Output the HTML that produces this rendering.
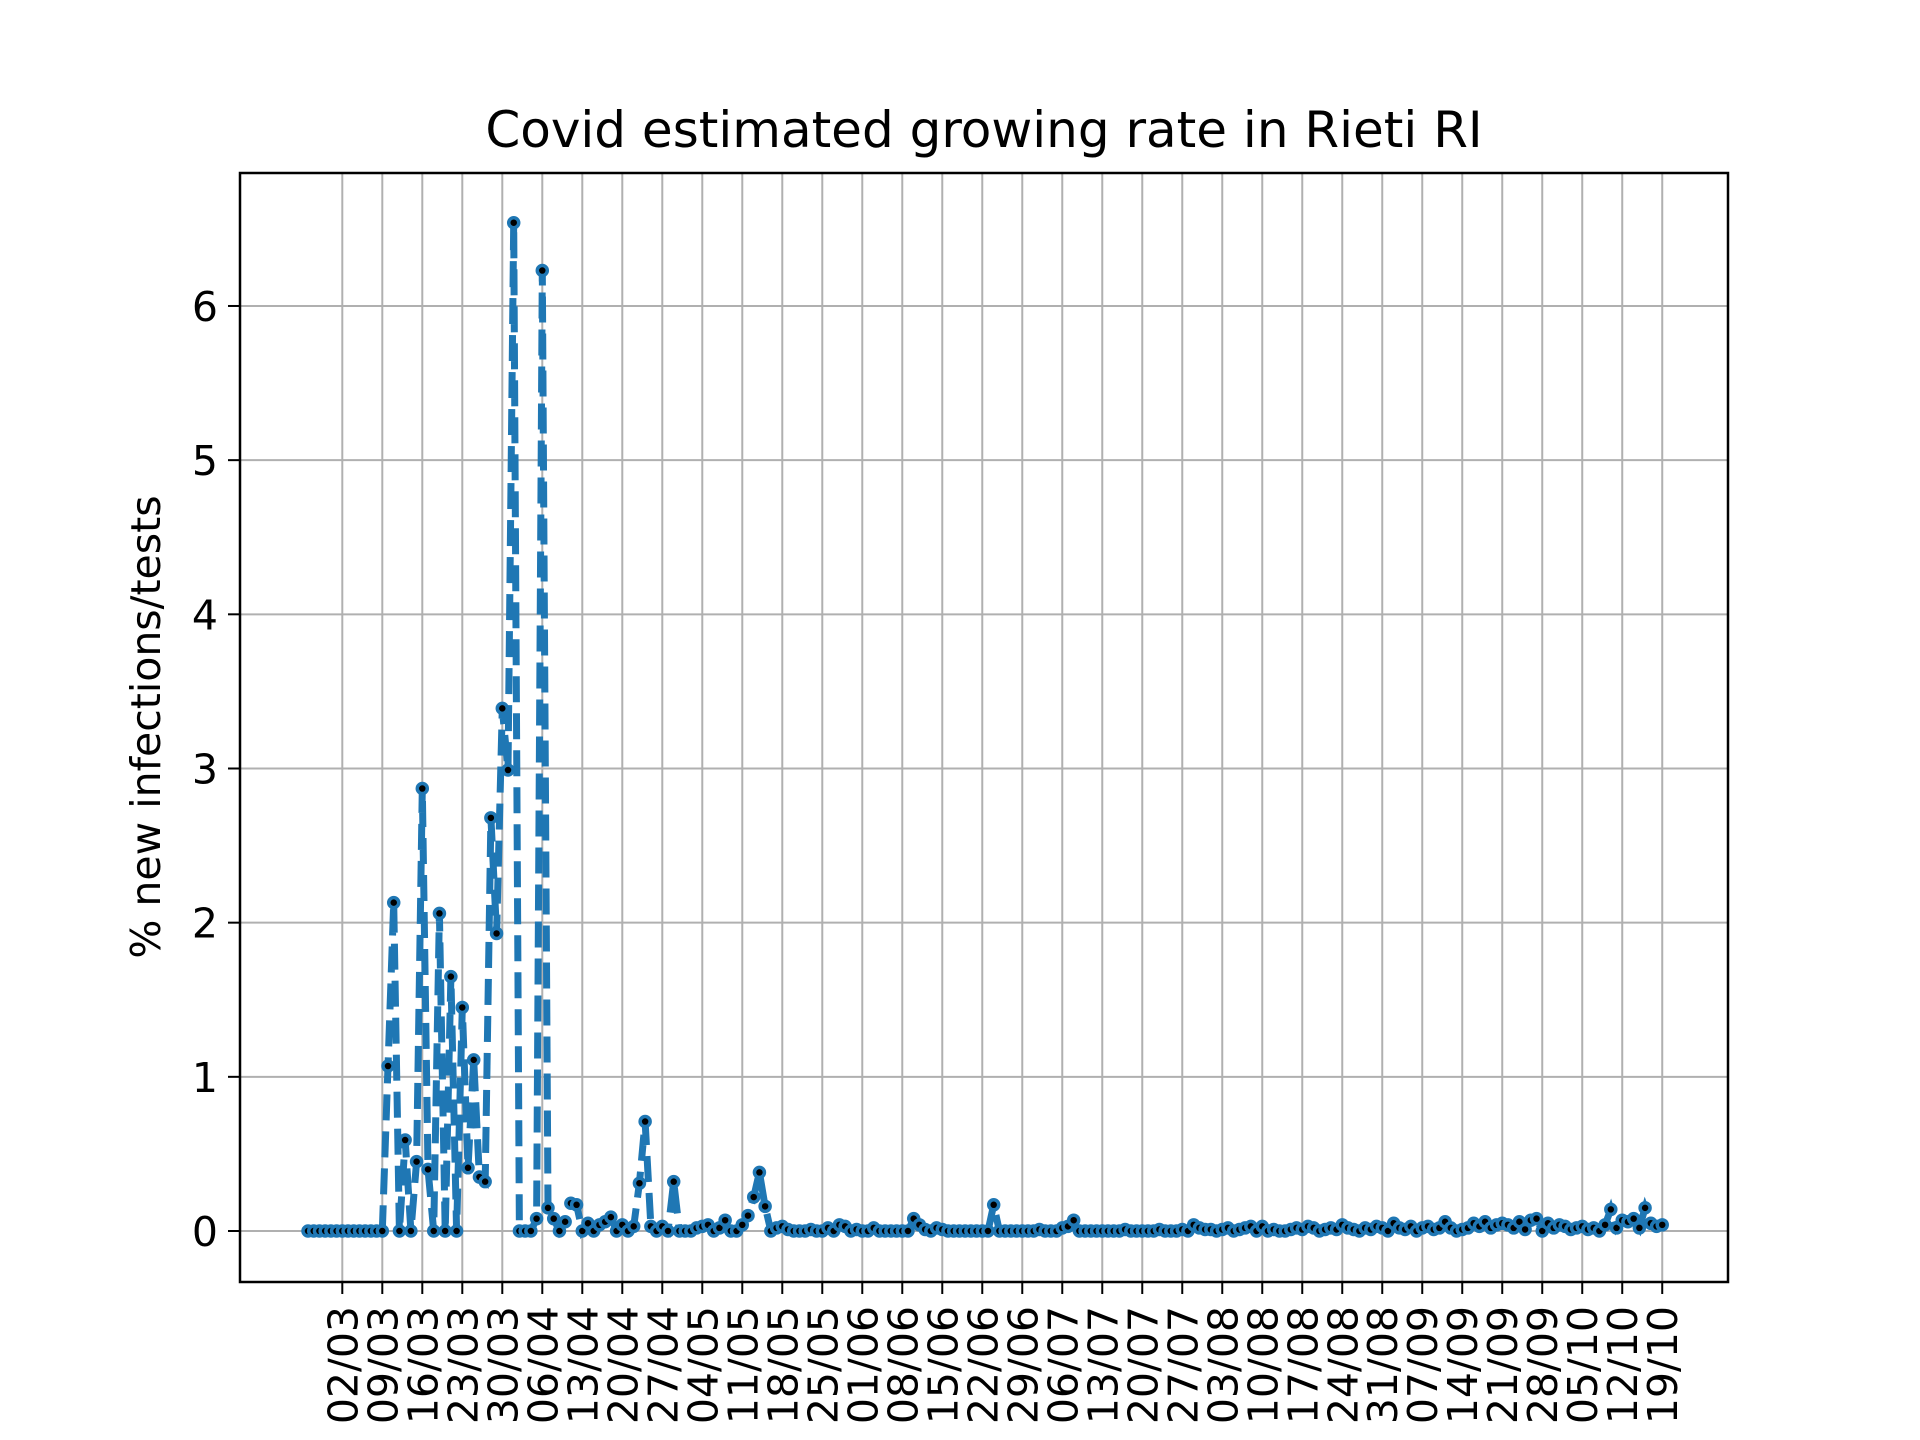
<!DOCTYPE html>
<html><head><meta charset="utf-8">
<style>
html,body{margin:0;padding:0;background:#fff;}
svg{display:block;font-family:"DejaVu Sans","Liberation Sans",sans-serif;}
</style></head>
<body>
<svg id="chart" width="1920" height="1440" viewBox="0 0 1920 1440" xmlns="http://www.w3.org/2000/svg">
<rect width="1920" height="1440" fill="#fff"/>
<text x="984" y="147" font-size="50" text-anchor="middle" fill="#000">Covid estimated growing rate in Rieti RI</text>
<text transform="translate(160,727) rotate(-90)" font-size="41" text-anchor="middle" fill="#000">% new infections/tests</text>
<g id="grid"></g>
<g id="series"></g>
<g id="axes"></g>
</svg>
<script>
// Data: daily values starting 25/02
const startLabel = "25/02";
const values = [
0,0,0,0,0,0,0,0,0,0,0,0,0,0,1.07,2.13,0,0.59,0,0.45,2.87,0.4,0,2.06,0,1.65,0,1.45,0.41,1.11,
0.35,0.32,2.68,1.93,3.39,2.99,6.54,0,0,0,0.08,6.23,0.15,0.08,0,0.06,0.18,0.17,0,0.05,
0,0.04,0.06,0.09,0,0.04,0,0.03,0.31,0.71,0.03,0,0.03,0,0.32,0,0,0,0.02,0.03,
0.04,0,0.02,0.07,0,0,0.04,0.1,0.22,0.38,0.16,0,0.02,0.03,
0.01,0,0,0,0.01,0,0,
0.02,0,0.04,0.03,0,0.01,0,
0,0.02,0,0,0,0,0,
0,0.08,0.04,0.01,0,0.02,0.01,
0,0,0,0,0,0,0,
0,0.17,0,0,0,0,0,
0,0,0.01,0,0,0,0.02,
0.03,0.07,0,0,0,0,0,
0,0,0,0.01,0,0,0,
0,0,0.01,0,0,0,0.01,
0,0.04,0.02,0.01,0.01,0,0.01,
0.02,0,0.01,0.02,0.03,0,0.03,
0,0.01,0,0,0.01,0.02,0.01,
0.03,0.02,0,0.01,0.02,0.01,0.04,
0.02,0.01,0,0.02,0.01,0.03,0.02,
0,0.05,0.02,0.01,0.03,0,0.02,
0.03,0.01,0.02,0.06,0.02,0,0.01,
0.02,0.05,0.03,0.06,0.02,0.04,0.05,
0.04,0.02,0.06,0.01,0.07,0.08,0,
0.05,0.02,0.04,0.03,0.01,0.02,0.03,
0.01,0.02,0,0.04,0.14,0.02,0.07,
0.06,0.08,0.02,0.15,0.05,0.03,0.04
];
const xTickLabels = ["02/03","09/03","16/03","23/03","30/03","06/04","13/04","20/04","27/04","04/05","11/05","18/05","25/05","01/06","08/06","15/06","22/06","29/06","06/07","13/07","20/07","27/07","03/08","10/08","17/08","24/08","31/08","07/09","14/09","21/09","28/09","05/10","12/10","19/10"];
const yTicks = [0,1,2,3,4,5,6];

const NS="http://www.w3.org/2000/svg";
const L=240,R=1728,T=173,B=1282;
const firstTickIndex=6, dayPx=5.714, tick0X=342.3;
function xs(i){return tick0X+(i-firstTickIndex)*dayPx;}
function ys(v){return 1231-v*154.17;}
function mk(tag,attrs,parent){const e=document.createElementNS(NS,tag);for(const k in attrs)e.setAttribute(k,attrs[k]);parent.appendChild(e);return e;}
const grid=document.getElementById('grid'),series=document.getElementById('series'),axes=document.getElementById('axes');

yTicks.forEach(v=>{
  const y=ys(v);
  const g=mk('line',{x1:L,x2:R,y1:y,y2:y,stroke:'#b0b0b0','stroke-width':2},grid);
  
  
  mk('line',{x1:L-12,x2:L,y1:y,y2:y,stroke:'#000','stroke-width':2},axes);
  const t=mk('text',{x:L-22,y:y+15,'font-size':41,'text-anchor':'end',fill:'#000'},axes);
  t.textContent=String(v);
  
  
});
xTickLabels.forEach((lab,k)=>{
  const x=xs(firstTickIndex+k*7);
  const g=mk('line',{x1:x,x2:x,y1:T,y2:B,stroke:'#b0b0b0','stroke-width':2},grid);
  
  
  mk('line',{x1:x,x2:x,y1:B,y2:B+12,stroke:'#000','stroke-width':2},axes);
  const t=mk('text',{transform:`translate(${x+15},${B+24}) rotate(-90)`,'font-size':41,'text-anchor':'end',fill:'#000'},axes);
  t.textContent=lab;
  
  
});
const frame=mk('rect',{x:L,y:T,width:R-L,height:B-T,fill:'none',stroke:'#000','stroke-width':2.5},axes);



const pts=values.map((v,i)=>xs(i).toFixed(1)+','+ys(v).toFixed(1)).join(' ');
const line=mk('polyline',{points:pts,fill:'none',stroke:'#1f77b4','stroke-width':7,'stroke-dasharray':'26 11'},series);


values.forEach((v,i)=>{
  const c=mk('circle',{cx:xs(i),cy:ys(v),r:5,fill:'#000',stroke:'#1f77b4','stroke-width':3.5},series);
  
  
});
</script>
</body></html>
